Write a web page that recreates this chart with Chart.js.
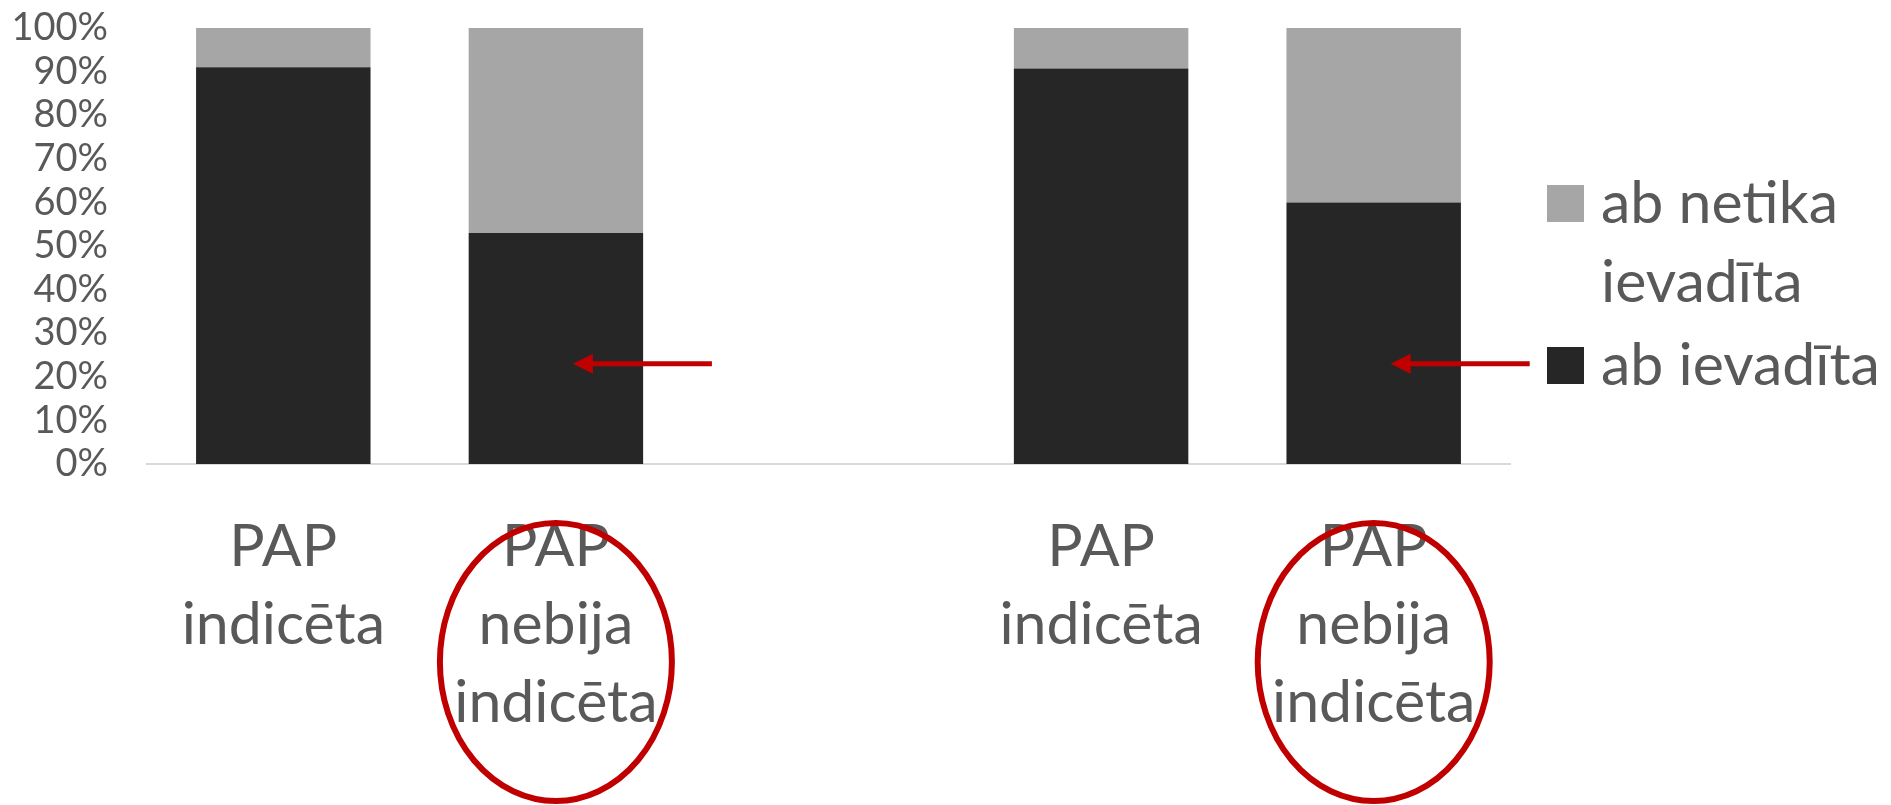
<!DOCTYPE html>
<html>
<head>
<meta charset="utf-8">
<script src="https://cdn.jsdelivr.net/npm/chart.js@4.4.1/dist/chart.umd.min.js"></script>
<style>
    html, body { margin: 0; padding: 0; background: #ffffff; }
    canvas { display: block; }
</style>
</head>
<body>
<canvas id="chart" width="1891" height="805"></canvas>
<script>
// Categories (the empty one is the gap between the two groups)
const categories = [
    ['PAP', 'indicēta'],
    ['PAP', 'nebija', 'indicēta'],
    '',
    ['PAP', 'indicēta'],
    ['PAP', 'nebija', 'indicēta']
];
const seriesNames = ['ab ievadīta', 'ab netika ievadīta'];
const legendLines = [['ab ievadīta'], ['ab netika', 'ievadīta']];
const introduced = [91, 53, null, 90.7, 60];
const notIntroduced = [9, 47, null, 9.3, 40];
const yMin = 0, yMax = 100, yStep = 10;

// Red annotations: arrows into these bars at this level, ellipses round these labels
const arrowCats = [1, 4];
const arrowLevel = 23;
const circledCats = [1, 4];

const FONT = 'Lato, "Liberation Sans", sans-serif';
const TEXT = '#595959';
const RED = '#C00000';

// Legend on the right, drawn top to bottom in reverse dataset order
const legendPlugin = {
    id: 'sideLegend',
    afterDraw(chart) {
        const ctx = chart.ctx;
        const area = chart.chartArea;
        const x = area.right + 37;
        let y = area.top + 157;
        ctx.save();
        ctx.font = '59px ' + FONT;
        ctx.textBaseline = 'middle';
        ctx.textAlign = 'left';
        for (let i = chart.data.datasets.length - 1; i >= 0; i--) {
            const ds = chart.data.datasets[i];
            ctx.fillStyle = ds.backgroundColor;
            ctx.fillRect(x, y, 37, 37);
            ctx.fillStyle = TEXT;
            legendLines[i].forEach((line, j) => {
                ctx.fillText(line, x + 54, y + 19 + j * 79);
            });
            y += legendLines[i].length * 79 + 4;
        }
        ctx.restore();
    }
};

const annotationPlugin = {
    id: 'redMarks',
    afterDraw(chart) {
        const ctx = chart.ctx;
        const xs = chart.scales.x;
        const ys = chart.scales.y;
        ctx.save();
        ctx.strokeStyle = RED;
        ctx.fillStyle = RED;

        // arrows
        arrowCats.forEach(c => {
            const cx = xs.getPixelForValue(c);
            const y = ys.getPixelForValue(arrowLevel);
            const tip = cx + 17;
            ctx.lineWidth = 5;
            ctx.beginPath();
            ctx.moveTo(cx + 156, y);
            ctx.lineTo(tip + 12, y);
            ctx.stroke();
            ctx.beginPath();
            ctx.moveTo(tip, y);
            ctx.lineTo(tip + 20, y - 10);
            ctx.lineTo(tip + 20, y + 10);
            ctx.closePath();
            ctx.fill();
        });

        // ellipses round the labels
        circledCats.forEach(c => {
            const cx = xs.getPixelForValue(c);
            ctx.lineWidth = 6;
            ctx.beginPath();
            ctx.ellipse(cx, 662, 116, 139, 0, 0, Math.PI * 2);
            ctx.stroke();
        });
        ctx.restore();
    }
};

const ctx = document.getElementById('chart').getContext('2d');
new Chart(ctx, {
    type: 'bar',
    data: {
        labels: categories,
        datasets: [
            {
                label: seriesNames[0],
                data: introduced,
                backgroundColor: '#262626',
                categoryPercentage: 1,
                barPercentage: 0.64
            },
            {
                label: seriesNames[1],
                data: notIntroduced,
                backgroundColor: '#A6A6A6',
                categoryPercentage: 1,
                barPercentage: 0.64
            }
        ]
    },
    options: {
        responsive: false,
        animation: false,
        layout: {
            padding: { top: 28, right: 381, bottom: 0, left: 0 }
        },
        plugins: {
            legend: { display: false },
            tooltip: { enabled: false }
        },
        scales: {
            x: {
                stacked: true,
                grid: { display: false, drawTicks: false },
                border: { display: true, color: '#D9D9D9', width: 2 },
                ticks: {
                    color: TEXT,
                    font: { family: FONT, size: 59, lineHeight: 1.32 },
                    padding: 44,
                    maxRotation: 0,
                    autoSkip: false
                },
                afterFit(scale) {
                    scale.height = 341;
                    scale.paddingLeft = 0;
                    scale.paddingRight = 0;
                }
            },
            y: {
                stacked: true,
                min: yMin,
                max: yMax,
                grid: { display: false, drawTicks: false },
                border: { display: false },
                ticks: {
                    stepSize: yStep,
                    autoSkip: false,
                    color: TEXT,
                    font: { family: FONT, size: 38 },
                    padding: 39,
                    callback: v => v + '%'
                },
                afterFit(scale) {
                    scale.width = 147;
                    scale.paddingTop = 0;
                    scale.paddingBottom = 0;
                }
            }
        }
    },
    plugins: [legendPlugin, annotationPlugin]
});
</script>
</body>
</html>
